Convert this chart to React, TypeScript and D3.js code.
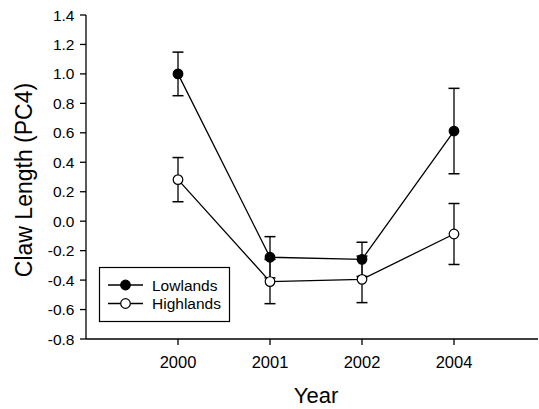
import React from "react";
import * as d3 from "d3";

const years = ["2000", "2001", "2002", "2004"];
const lowlands = [1.0, -0.245, -0.259, 0.612];
const lowlandsErr = [0.148, 0.14, 0.116, 0.29];
const highlands = [0.282, -0.41, -0.395, -0.087];
const highlandsErr = [0.15, 0.15, 0.158, 0.207];
const yTicks = [-0.8, -0.6, -0.4, -0.2, 0.0, 0.2, 0.4, 0.6, 0.8, 1.0, 1.2, 1.4];

const W = 539;
const H = 409;
const FONT = "'Liberation Sans', Arial, Helvetica, sans-serif";

export default function App() {
  const x = d3.scaleLinear().domain([-1, 4]).range([86, 546]);
  const y = d3.scaleLinear().domain([-0.8, 1.4]).range([339, 15]);
  const line = d3
    .line<number>()
    .x((_, i) => x(i))
    .y((d) => y(d));

  const series = [
    { name: "Lowlands", values: lowlands, err: lowlandsErr, fill: "#000" },
    { name: "Highlands", values: highlands, err: highlandsErr, fill: "#fff" },
  ];

  const r = 4.8;
  const cap = 5.5;

  return (
    <svg
      width={W}
      height={H}
      style={{ position: "absolute", left: 0, top: 0, background: "#fff" }}
      fontFamily={FONT}
    >
      <rect x={0} y={0} width={W} height={H} fill="#fff" />
      {/* axes */}
      <line x1={86} x2={86} y1={y(1.4)} y2={y(-0.8)} stroke="#000" strokeWidth={1.3} />
      <line x1={86} x2={538} y1={339} y2={339} stroke="#000" strokeWidth={1.3} />
      {yTicks.map((t) => (
        <g key={t}>
          <line x1={80} x2={86} y1={y(t)} y2={y(t)} stroke="#000" strokeWidth={1.3} />
          <text x={74.5} y={y(t)} dy="0.36em" textAnchor="end" fontSize={15.5} fill="#000">
            {t.toFixed(1)}
          </text>
        </g>
      ))}
      {years.map((yr, i) => (
        <g key={yr}>
          <line x1={x(i)} x2={x(i)} y1={339} y2={345} stroke="#000" strokeWidth={1.3} />
          <text x={x(i)} y={368} textAnchor="middle" fontSize={16.5} fill="#000">
            {yr}
          </text>
        </g>
      ))}
      <text x={316} y={403} textAnchor="middle" fontSize={22} fill="#000">
        Year
      </text>
      <text
        transform={`translate(32,180) rotate(-90)`}
        textAnchor="middle"
        fontSize={23}
        fill="#000"
      >
        Claw Length (PC4)
      </text>

      {/* lines */}
      {series.map((s) => (
        <path key={s.name + "l"} d={line(s.values) || ""} fill="none" stroke="#000" strokeWidth={1.3} />
      ))}
      {/* error bars */}
      {series.map((s) =>
        s.values.map((v, i) => (
          <g key={s.name + "e" + i} stroke="#222" strokeWidth={1.5}>
            <line x1={x(i)} x2={x(i)} y1={y(v + s.err[i])} y2={y(v - s.err[i])} />
            <line x1={x(i) - cap} x2={x(i) + cap} y1={y(v + s.err[i])} y2={y(v + s.err[i])} stroke="#000" />
            <line x1={x(i) - cap} x2={x(i) + cap} y1={y(v - s.err[i])} y2={y(v - s.err[i])} stroke="#000" />
          </g>
        ))
      )}
      {/* markers */}
      {series.map((s) =>
        s.values.map((v, i) => (
          <circle key={s.name + "m" + i} cx={x(i)} cy={y(v)} r={r} fill={s.fill} stroke="#000" strokeWidth={1.2} />
        ))
      )}

      {/* legend */}
      <rect x={99.5} y={267.5} width={130} height={54} fill="#fff" stroke="#000" strokeWidth={1.2} />
      {series.map((s, i) => (
        <g key={s.name + "leg"}>
          <line x1={108} x2={143} y1={285 + i * 18.5} y2={285 + i * 18.5} stroke="#000" strokeWidth={1.3} />
          <circle cx={125.5} cy={285 + i * 18.5} r={r} fill={s.fill} stroke="#000" strokeWidth={1.2} />
          <text x={152} y={285 + i * 18.5} dy="0.36em" fontSize={15.5} fill="#000">
            {s.name}
          </text>
        </g>
      ))}
    </svg>
  );
}
